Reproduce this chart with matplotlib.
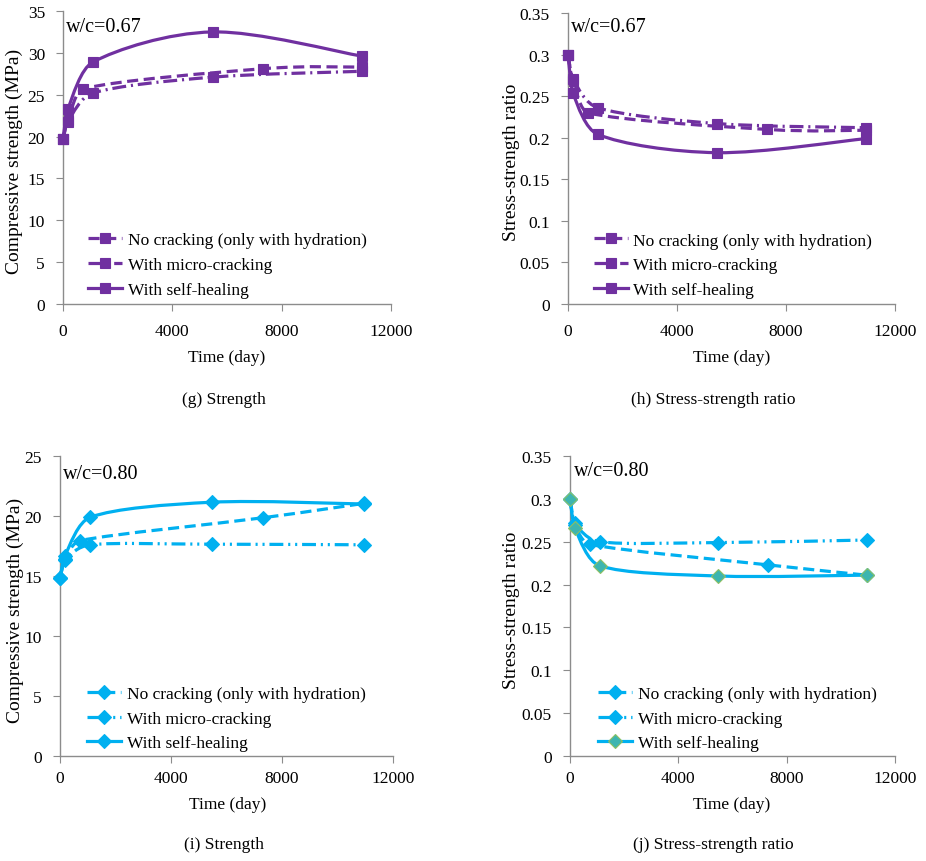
import numpy as np
import matplotlib
matplotlib.use("Agg")
import matplotlib.pyplot as plt
from matplotlib.path import Path
from matplotlib.patches import PathPatch
from matplotlib.lines import Line2D

plt.rcParams["font.family"] = ["Liberation Serif", "DejaVu Serif"]
plt.rcParams["lines.scale_dashes"] = False

# time (day) of each point
days_nc = [0, 180, 730, 7300, 10950]
days_mc = [0, 180, 1095, 5475, 10950]
days_sh = [0, 180, 1095, 5475, 10950]

labels = ["No cracking (only with hydration)", "With micro-cracking", "With self-healing"]

# w/c = 0.67
strength_067_nc = [19.7, 22.0, 25.7, 28.1, 28.3]
strength_067_mc = [19.7, 21.8, 25.2, 27.1, 27.8]
strength_067_sh = [19.7, 23.3, 28.9, 32.5, 29.6]
ratio_067_nc = [0.30, 0.268, 0.230, 0.210, 0.209]
ratio_067_mc = [0.30, 0.271, 0.236, 0.217, 0.212]
ratio_067_sh = [0.30, 0.254, 0.204, 0.182, 0.199]

# w/c = 0.80
strength_080_nc = [14.8, 16.4, 17.95, 19.85, 21.05]
strength_080_mc = [14.8, 16.3, 17.6, 17.65, 17.6]
strength_080_sh = [14.8, 16.7, 19.9, 21.15, 21.0]
ratio_080_nc = [0.30, 0.270, 0.247, 0.223, 0.211]
ratio_080_mc = [0.30, 0.272, 0.250, 0.249, 0.252]
ratio_080_sh = [0.30, 0.266, 0.222, 0.210, 0.211]

purple = "#7030A0"
blue = "#00B0F0"
gray = "#8C8C8C"

W, H = 926, 862


def smooth_path(x, y):
    # Excel style smoothed line: bezier segments through the data points,
    # handles shortened so a segment never loops back
    p = np.column_stack([x, y]).astype(float)
    n = len(p)
    verts = [p[0]]
    codes = [Path.MOVETO]
    for i in range(n - 1):
        p0 = p[max(i - 1, 0)]
        p1 = p[i]
        p2 = p[i + 1]
        p3 = p[min(i + 2, n - 1)]
        dx = p2[0] - p1[0]
        h1 = (p2 - p0) / 6
        h2 = (p3 - p1) / 6
        if abs(h1[0]) > 0.5 * dx:
            h1 = h1 * 0.5 * dx / abs(h1[0])
        if abs(h2[0]) > 0.5 * dx:
            h2 = h2 * 0.5 * dx / abs(h2[0])
        verts += [p1 + h1, p2 - h2, p2]
        codes += [Path.CURVE4] * 3
    return Path(verts, codes)


def fx(px):
    return px / W


def fy(py):
    return 1 - py / H


def panel(box, series, color, marker, ms, styles, ylim, ystep, ylabel, wc,
          wc_xy, ylab_x, xlab_xy, leg_anchor, tick_pad, faces, edges):
    l, t, r, b = box
    ax = fig.add_axes([fx(l), fy(b), fx(r) - fx(l), fy(t) - fy(b)])
    handles = []
    for k, (xd, yd) in enumerate(series):
        ls = styles[k]
        patch = PathPatch(smooth_path(xd, yd), fill=False, edgecolor=color,
                          lw=2.3, linestyle=ls, zorder=2 + k, clip_on=False,
                          capstyle="butt")
        ax.add_patch(patch)
        ax.plot(xd, yd, linestyle="none", marker=marker, ms=ms,
                mfc=faces[k], mec=edges[k], mew=0.8, zorder=2.5 + k, clip_on=False)
        handles.append(Line2D([], [], color=color, lw=2.3, linestyle=ls,
                              marker=marker, ms=ms, mfc=faces[k], mec=edges[k], mew=0.8))
    ax.set_xlim(0, 12000)
    ax.set_ylim(*ylim)
    ax.set_xticks([0, 4000, 8000, 12000])
    yt = np.arange(0, ylim[1] + ystep / 2, ystep)
    ax.set_yticks(yt)
    ax.set_yticklabels(["%g" % round(v, 3) for v in yt])
    for s in ["top", "right"]:
        ax.spines[s].set_visible(False)
    for s in ["left", "bottom"]:
        ax.spines[s].set_color(gray)
        ax.spines[s].set_linewidth(1.0)
    ax.tick_params(axis="x", direction="out", length=5, color=gray,
                   labelsize=12.5, pad=tick_pad)
    ax.tick_params(axis="y", direction="out", length=5, color=gray,
                   labelsize=12.5, pad=8)
    ax.legend(handles, labels, loc="lower left", bbox_to_anchor=leg_anchor,
              frameon=False, fontsize=12.5, handlelength=2.0, handletextpad=0.3,
              labelspacing=0.5, borderpad=0, borderaxespad=0, numpoints=1)
    fig.text(fx(wc_xy[0]), fy(wc_xy[1]), wc, fontsize=14.5, ha="left", va="center")
    fig.text(fx(ylab_x), fy((t + b) / 2 + 3), ylabel, fontsize=14,
             rotation=90, ha="center", va="center")
    fig.text(fx(xlab_xy[0]), fy(xlab_xy[1]), "Time (day)", fontsize=12.5,
             ha="center", va="center")
    return ax


fig = plt.figure(figsize=(W / 100, H / 100), dpi=100)

dash = (0, (8, 4))
dashdot = (0, (10, 3.5, 1.5, 3.5))
dashdotdot = (0, (10, 3.5, 1.5, 3.5, 1.5, 3.5))

sq_faces = [purple] * 3
di_faces = [blue, blue, "#3DB5B0"]
di_edges = [blue, blue, "#8DC063"]

panel((63, 12, 391, 305),
      [(days_nc, strength_067_nc), (days_mc, strength_067_mc), (days_sh, strength_067_sh)],
      purple, "s", 7, [dash, dashdot, "-"], (0, 35), 5,
      "Compressive strength (MPa)", "w/c=0.67", (66, 28), 14, (227, 358),
      (0.075, 0.02), 9, sq_faces, sq_faces)

panel((568, 14, 895, 305),
      [(days_nc, ratio_067_nc), (days_mc, ratio_067_mc), (days_sh, ratio_067_sh)],
      purple, "s", 7, [dash, dashdot, "-"], (0, 0.35), 0.05,
      "Stress-strength ratio", "w/c=0.67", (571, 28), 511, (732, 358),
      (0.078, 0.02), 9, sq_faces, sq_faces)

panel((60, 457, 393, 757),
      [(days_nc, strength_080_nc), (days_mc, strength_080_mc), (days_sh, strength_080_sh)],
      blue, "D", 7, [dash, dashdotdot, "-"], (0, 25), 5,
      "Compressive strength (MPa)", "w/c=0.80", (63, 475), 15, (228, 805),
      (0.08, 0.015), 5, [blue] * 3, [blue] * 3)

panel((570, 457, 895, 757),
      [(days_nc, ratio_080_nc), (days_mc, ratio_080_mc), (days_sh, ratio_080_sh)],
      blue, "D", 7, [dash, dashdotdot, "-"], (0, 0.35), 0.05,
      "Stress-strength ratio", "w/c=0.80", (574, 472), 511, (732, 805),
      (0.085, 0.015), 5, di_faces, di_edges)

captions = ["(g) Strength", "(h) Stress-strength ratio", "(i) Strength", "(j) Stress-strength ratio"]
cap_xy = [(224, 400), (713, 400), (224, 845), (713, 845)]
for txt, (cx, cy) in zip(captions, cap_xy):
    fig.text(fx(cx), fy(cy), txt, fontsize=12.5, ha="center", va="center")

fig.savefig("out.png", dpi=100)
